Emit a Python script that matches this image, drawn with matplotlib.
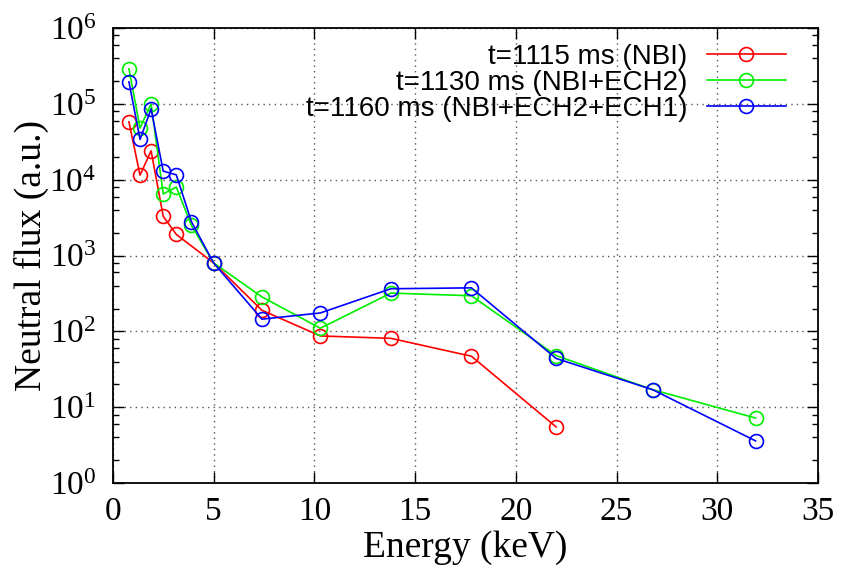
import matplotlib
matplotlib.use('Agg')
import matplotlib.pyplot as plt
from matplotlib.ticker import LogLocator, MultipleLocator

# data
e_red = [0.8, 1.35, 1.9, 2.5, 3.15, 5.0, 7.4, 10.3, 13.8, 17.8, 22.0]
f_red = [5.8e4, 1.15e4, 2.4e4, 3.3e3, 1.9e3, 800, 190, 87, 81, 47, 5.5]

e_green = [0.8, 1.35, 1.9, 2.5, 3.15, 3.9, 5.0, 7.4, 10.3, 13.8, 17.8, 22.0, 26.8, 31.9]
f_green = [2.9e5, 4.8e4, 1.0e5, 6.5e3, 8.0e3, 2.5e3, 800, 285, 110, 320, 295, 48, 17, 7.2]

e_blue = [0.8, 1.35, 1.9, 2.5, 3.15, 3.9, 5.0, 7.4, 10.3, 13.8, 17.8, 22.0, 26.8, 31.9]
f_blue = [1.95e5, 3.4e4, 8.6e4, 1.3e4, 1.16e4, 2.8e3, 800, 145, 175, 365, 375, 44, 17, 3.6]

labels = ['t=1115 ms (NBI)', 't=1130 ms (NBI+ECH2)', 't=1160 ms (NBI+ECH2+ECH1)']
colors = ['#ff0000', '#00ee00', '#0000ff']

serif = 'Liberation Serif'
plt.rcParams['mathtext.fontset'] = 'stix'
plt.rcParams['font.family'] = serif

fig = plt.figure(figsize=(8.42, 5.73), dpi=100)
ax = fig.add_axes([0.134, 0.157, 0.8375, 0.794])

for e, f, lab, c in zip([e_red, e_green, e_blue], [f_red, f_green, f_blue], labels, colors):
    ax.plot(e, f, color=c, lw=1.2, marker='o', markersize=10,
            markerfacecolor='none', markeredgecolor=c, markeredgewidth=1.2, label=lab)

ax.set_yscale('log')
ax.set_xlim(0, 35)
ax.set_ylim(1, 1e6)
ax.xaxis.set_major_locator(MultipleLocator(5))
ax.yaxis.set_major_locator(LogLocator(base=10, numticks=10))
ax.yaxis.set_minor_locator(LogLocator(base=10, subs=(2, 4, 6, 8), numticks=10))

ax.tick_params(axis='both', which='major', labelsize=24, direction='in',
               length=8, width=1, top=True, right=True)
ax.tick_params(axis='x', which='major', pad=10)
ax.tick_params(axis='y', which='major', pad=12)
ax.tick_params(axis='both', which='minor', direction='in', length=4,
               width=1, top=True, right=True)

ax.grid(True, which='major', color='#555555', linestyle=(0, (1, 3)), lw=1)
for s in ax.spines.values():
    s.set_linewidth(1.3)

ax.set_xlabel('Energy (keV)', fontsize=27, labelpad=2)
ax.set_ylabel('Neutral flux (a.u.)', fontsize=27, labelpad=0)

leg = ax.legend(loc='upper right', frameon=False, markerfirst=False,
                prop={'family': 'Liberation Sans', 'size': 20},
                handlelength=2.85, handletextpad=0.68, labelspacing=0.0,
                borderaxespad=0, bbox_to_anchor=(0.970, 0.99))
for t in leg.get_texts():
    t.set_ha('right')
leg._legend_box.align = 'right'

plt.savefig('out.png', dpi=100)
plt.close()
